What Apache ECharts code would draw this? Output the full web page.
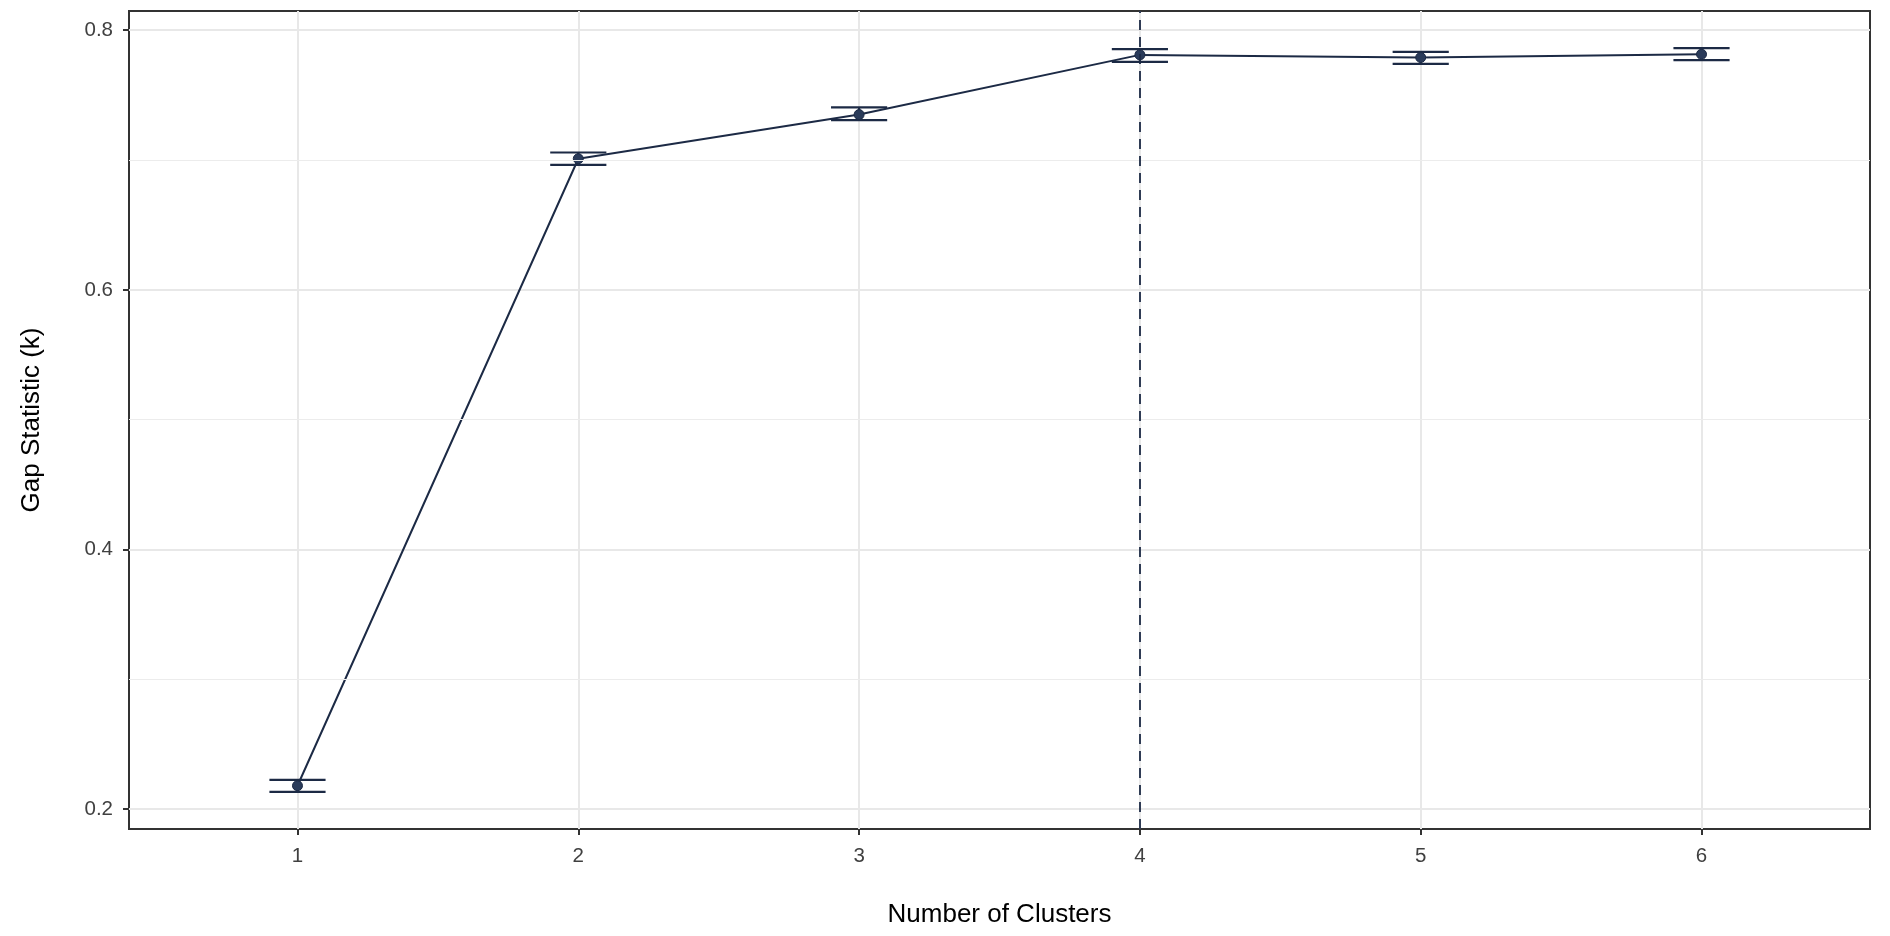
<!DOCTYPE html>
<html>
<head>
<meta charset="utf-8">
<script src="https://cdn.jsdelivr.net/npm/echarts@6/dist/echarts.min.js"></script>
<style>
html,body{margin:0;padding:0;background:#fff;}
#chart{width:1890px;height:936px;}
</style>
</head>
<body>
<div id="chart"></div>
<script>
// ---- data ----
const clusters = [1, 2, 3, 4, 5, 6];
const gap      = [0.218, 0.701, 0.735, 0.781, 0.779, 0.7815];
const gapUpper = [0.2225, 0.7058, 0.7405, 0.7854, 0.7833, 0.7862];
const gapLower = [0.2133, 0.6963, 0.7308, 0.7756, 0.7741, 0.7769];
const xTickValues = [1, 2, 3, 4, 5, 6];
const yTickValues = [0.2, 0.4, 0.6, 0.8];
const yMinorValues = [0.3, 0.5, 0.7];
const optimalK = 4;
const xTitle = 'Number of Clusters';
const yTitle = 'Gap Statistic (k)';

const NAVY = '#1c2a45';
const FONT = '"Liberation Sans", Arial, Helvetica, sans-serif';

const lineData = clusters.map((k, i) => [k, gap[i]]);
const errData = clusters.map((k, i) => [k, gapLower[i], gapUpper[i]]);

const chart = echarts.init(document.getElementById('chart'), null, {renderer: 'canvas'});

const xMin = 0.4, xMax = 6.6, yMin = 0.1847, yMax = 0.8148;

const option = {
  backgroundColor: '#ffffff',
  animation: false,
  grid: {
    left: 129, right: 20, top: 11, bottom: 107,
    show: true, borderColor: '#333333', borderWidth: 2,
    backgroundColor: 'transparent', containLabel: false
  },
  xAxis: {
    type: 'value', min: xMin, max: xMax,
    name: xTitle, nameLocation: 'middle', nameGap: 73,
    nameTextStyle: {fontFamily: FONT, fontSize: 26, color: '#000'},
    axisLine: {show: false},
    axisTick: {show: true, length: 6, customValues: xTickValues, lineStyle: {color: '#333', width: 2}},
    axisLabel: {customValues: xTickValues, fontFamily: FONT, fontSize: 20.5, color: '#404040', margin: 17,
      formatter: v => String(v)},
    splitLine: {show: true, lineStyle: {color: '#e8e8e8', width: 2}},
    minorSplitLine: {show: false}
  },
  yAxis: [{
    type: 'value', min: yMin, max: yMax,
    name: yTitle, nameLocation: 'middle', nameGap: 84,
    nameTextStyle: {fontFamily: FONT, fontSize: 26, color: '#000'},
    axisLine: {show: false},
    axisTick: {show: true, length: 6, customValues: yTickValues, lineStyle: {color: '#333', width: 2}},
    axisLabel: {customValues: yTickValues, fontFamily: FONT, fontSize: 20.5, color: '#404040', margin: 16,
      formatter: v => v.toFixed(1)},
    splitLine: {show: true, lineStyle: {color: '#e8e8e8', width: 2}}
  }],
  series: [
    {
      // minor horizontal grid lines
      type: 'line', data: [], silent: true, z: 0,
      markLine: {
        silent: true, symbol: 'none', animation: false,
        label: {show: false},
        lineStyle: {color: '#ececec', width: 1.2, type: 'solid'},
        data: yMinorValues.map(v => ({yAxis: v}))
      }
    },
    {
      // optimal k dashed line
      type: 'line', data: [], silent: true, z: 1,
      markLine: {
        silent: true, symbol: 'none', animation: false,
        label: {show: false},
        lineStyle: {color: NAVY, width: 1.8, type: [10, 7]},
        data: [{xAxis: optimalK}]
      }
    },
    {
      type: 'custom', z: 3, silent: true,
      data: errData,
      renderItem: function (params, api) {
        const x = api.value(0), lo = api.value(1), hi = api.value(2);
        const pLo = api.coord([x, lo]);
        const pHi = api.coord([x, hi]);
        const left = api.coord([x - 0.1, lo])[0];
        const right = api.coord([x + 0.1, lo])[0];
        const st = {stroke: NAVY, lineWidth: 2.2, fill: null};
        return {
          type: 'group',
          children: [
            {type: 'line', shape: {x1: pLo[0], y1: pLo[1], x2: pHi[0], y2: pHi[1]}, style: st},
            {type: 'line', shape: {x1: left, y1: pLo[1], x2: right, y2: pLo[1]}, style: st},
            {type: 'line', shape: {x1: left, y1: pHi[1], x2: right, y2: pHi[1]}, style: st}
          ]
        };
      }
    },
    {
      type: 'line', z: 4,
      data: lineData,
      symbol: 'circle', symbolSize: 10,
      lineStyle: {color: NAVY, width: 2},
      itemStyle: {color: '#2a3b5a', borderColor: NAVY, borderWidth: 1}
    }
  ]
};
chart.setOption(option);
</script>
</body>
</html>
